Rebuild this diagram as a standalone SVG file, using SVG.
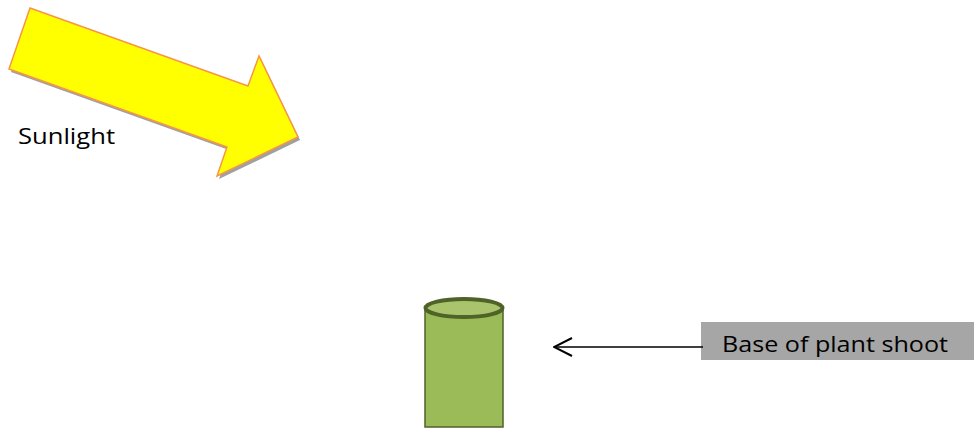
<svg xmlns="http://www.w3.org/2000/svg" width="974" height="429" viewBox="0 0 974 429">
<defs>
<style>
.lbl{font-family:"Open Sans","Liberation Sans",sans-serif;font-size:22px;fill:#000}
</style>
<marker id="open" viewBox="0 0 20 20" refX="19" refY="10" markerWidth="20" markerHeight="20" markerUnits="userSpaceOnUse" orient="auto">
<path d="M1,1 L19,10 L1,19" fill="none" stroke="#000" stroke-width="2"/>
</marker>
</defs>
<rect width="974" height="429" fill="#fff"/>
<g id="sunlight">
<polygon points="32,11 250,89 261,59 300,140 219,179 229,150 11,72" fill="#A0A0A0"/>
<polygon points="30,8 248,86 259,56 298,137 217,176 227,147 9,69" fill="#FFFF00" stroke="#F79646" stroke-width="1.5" stroke-linejoin="miter"/>
<text class="lbl" x="18" y="144" textLength="97" lengthAdjust="spacingAndGlyphs">Sunlight</text>
</g>
<g id="shoot">
<path d="M425,308 L425,427 L503,427 L503,308" fill="#9BBB59" stroke="#4F6228" stroke-width="1.5"/>
<ellipse cx="464" cy="308" rx="38.5" ry="9" fill="#A9C46C" stroke="#4F6228" stroke-width="4"/>
</g>
<g id="label">
<rect x="701" y="322" width="273" height="38" fill="#A6A6A6"/>
<text class="lbl" x="722" y="352" textLength="226" lengthAdjust="spacingAndGlyphs">Base of plant shoot</text>
</g>
<g id="connectors">
<line x1="703" y1="347" x2="554" y2="347" stroke="#000" stroke-width="1.5" marker-end="url(#open)"/>
</g>
</svg>
